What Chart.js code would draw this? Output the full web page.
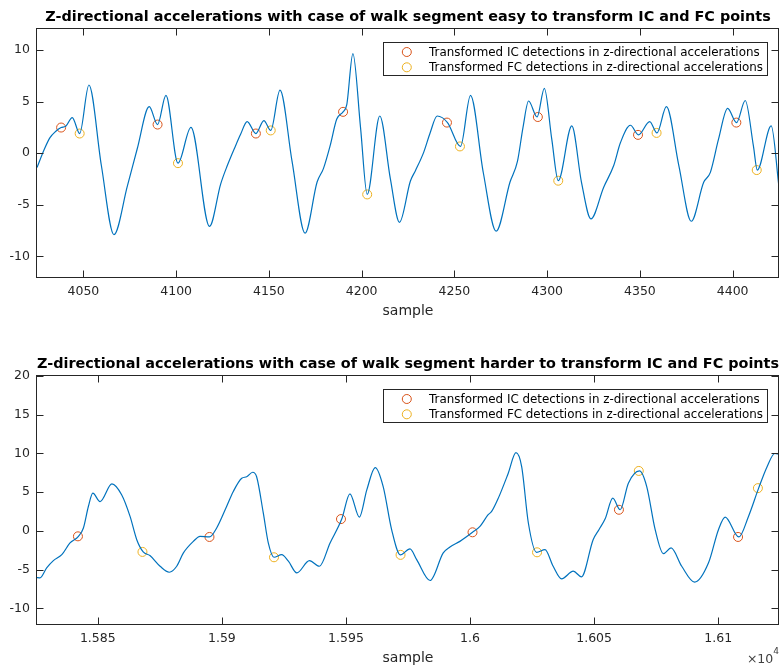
<!DOCTYPE html>
<html>
<head>
<meta charset="utf-8">
<script src="https://cdn.jsdelivr.net/npm/chart.js@4.4.1/dist/chart.umd.min.js"></script>
<style>
    html, body { margin: 0; padding: 0; background: #fff; }
    #wrap { position: relative; width: 780px; height: 669px; overflow: hidden; }
    .box { position: absolute; left: 0; width: 780px; }
</style>
</head>
<body>
<div id="wrap">
    <div class="box" style="top:0;height:335px"><canvas id="topChart"></canvas></div>
    <div class="box" style="top:335px;height:334px"><canvas id="bottomChart"></canvas></div>
</div>
<script>
// upper panel: easy walk segment
const topSamples = [4025, 4029, 4032, 4035, 4038, 4040.5, 4044, 4048, 4053, 4059.7, 4066.5, 4073.7, 4079, 4085.5, 4090, 4094.5,
    4101, 4108, 4118, 4124, 4127.6, 4132, 4134.7, 4138.3, 4143, 4147.3, 4151, 4156, 4162.5, 4169.5, 4176, 4179.4,
    4183, 4186.6, 4190, 4192, 4195.3, 4199.4, 4203, 4209.8, 4215.5, 4220.4, 4226.3, 4229, 4233.5, 4237, 4240.7, 4246.3,
    4253.3, 4258.7, 4265.6, 4272.5, 4280, 4284, 4287, 4290, 4294.6, 4298.5, 4302.5, 4306, 4313.3, 4318.5, 4323.6, 4330.5,
    4335.9, 4339.5, 4344.9, 4349.2, 4355.3, 4359.2, 4364.3, 4371, 4377.7, 4384.4, 4388, 4392.4, 4397.3, 4402.1, 4406.8,
    4411.2, 4413.3, 4420.8, 4425];
const topValues = [-1.4, 0.4, 1.5, 2.1, 2.48, 2.6, 3.45, 1.9, 6.6, -1.2, -7.9, -3.2, 0.4, 4.5, 2.77, 5.6,
    -0.97, 2.5, -7.1, -3.0, -1.2, 0.7, 1.8, 3.06, 1.9, 3.15, 2.2, 6.1, -0.8, -7.75, -2.8, -1.5,
    0.7, 3.3, 4.0, 4.7, 9.65, 2.5, -4.0, 3.6, -2.5, -6.7, -2.7, -1.7, 0.1, 2.0, 3.6, 2.96,
    0.65, 5.6, -1.9, -7.56, -2.8, -0.8, 2.5, 5.05, 3.5, 6.27, 1.35, -2.67, 2.64, -2.8, -6.37, -3.3,
    -1.2, 1.0, 2.7, 1.77, 3.06, 1.96, 4.5, -1.2, -6.6, -2.83, -1.86, 1.35, 4.34, 2.96, 5.1,
    0.7, -1.64, 2.64, -3.3];
const topIcSamples = [4038, 4090, 4143, 4190, 4246, 4295, 4349, 4402];
const topIcValues = [2.48, 2.77, 1.9, 4.0, 2.96, 3.5, 1.77, 2.96];
const topFcSamples = [4048, 4101, 4151, 4203, 4253, 4306, 4359, 4413];
const topFcValues = [1.9, -0.97, 2.2, -4.0, 0.65, -2.67, 1.96, -1.64];
const topXTicks = [4050, 4100, 4150, 4200, 4250, 4300, 4350, 4400];
const topXTickLabels = ['4050', '4100', '4150', '4200', '4250', '4300', '4350', '4400'];
const topYTicks = [-10, -5, 0, 5, 10];

// lower panel: harder walk segment
const bottomSamples = [15825.4, 15826.7, 15829.4, 15832.1, 15835.5, 15838.8, 15842.2, 15844.2, 15846.2, 15848, 15850.9,
    15855.7, 15859.6, 15863, 15865.7, 15868.3, 15871, 15875.1, 15878.8, 15881.8, 15884.5, 15888.5, 15891.2, 15895,
    15897.9, 15901.9, 15904.6, 15908, 15910, 15912.4, 15914, 15916.7, 15918.7, 15921, 15924.1, 15926.8, 15930.2,
    15935.3, 15939.3, 15943.6, 15948.3, 15951.6, 15955.4, 15958.4, 15961.8, 15965, 15968.4, 15971.9, 15975.8,
    15978.5, 15983.9, 15989.2, 15991.9, 15995.9, 16001, 16004, 16007.3, 16008.7, 16011.4, 16015.4, 16018.5,
    16020.8, 16023.5, 16026.8, 16030.2, 16033.5, 16036.9, 16041.6, 16044.9, 16049.6, 16052, 16054.5, 16057.5,
    16060.5, 16063.8, 16068.3, 16071.2, 16074.6, 16077.9, 16081, 16085.3, 16090.5, 16096.1, 16100.1, 16102.8,
    16108.3, 16112.2, 16116.3, 16119.7, 16122.8, 16124.5];
const bottomValues = [-6.0, -6.05, -4.76, -3.82, -3.05, -1.54, -0.69, 0.39, 3.16, 4.88, 3.8,
    6.08, 4.67, 1.88, -1.12, -2.7, -3.17, -4.55, -5.32, -4.55, -2.83, -1.34, -0.69, -0.77,
    0.39, 3.16, 5.1, 6.8, 7.0, 7.58, 7.0, 2.3, -1.54, -3.39, -3.05, -3.9, -5.4,
    -3.82, -4.55, -1.54, 1.54, 4.8, 1.8, 5.3, 8.18, 5.73, 0.17, -3.08, -2.3,
    -3.69, -6.39, -2.83, -2.06, -1.34, -0.17, 0.6, 2.1, 2.52, 4.24, 7.45, 10.1,
    8.3, 1.03, -2.75, -2.4, -4.55, -6.17, -5.19, -5.91, -1.12, 0.2, 1.6, 4.24,
    2.74, 6.17, 7.75, 5.73, 0.17, -2.92, -2.19, -4.55, -6.6, -4.11, 0.17, 1.8,
    -0.77, 1.88, 5.53, 8.3, 10.0, 9.9];
const bottomIcSamples = [15842, 15895, 15948, 16001, 16060, 16108];
const bottomIcValues = [-0.69, -0.77, 1.54, -0.17, 2.74, -0.77];
const bottomFcSamples = [15868, 15921, 15972, 16027, 16068, 16116];
const bottomFcValues = [-2.7, -3.39, -3.08, -2.75, 7.75, 5.53];
const bottomXTicks = [15850, 15900, 15950, 16000, 16050, 16100];
const bottomXTickLabels = ['1.585', '1.59', '1.595', '1.6', '1.605', '1.61'];
const bottomYTicks = [-10, -5, 0, 5, 10, 15, 20];

const icLabel = 'Transformed IC detections in z-directional accelerations';
const fcLabel = 'Transformed FC detections in z-directional accelerations';
const axisColor = '#262626';

Chart.defaults.font.family = "'DejaVu Sans', sans-serif";

const toPoints = (xs, ys) => xs.map((x, i) => ({ x: x, y: ys[i] }));

// matlab look: closed box, inward ticks, legend box inside the axes, x10^4 label
const matlabAxes = {
    id: 'matlabAxes',
    afterDraw(chart, args, opts) {
        const ctx = chart.ctx;
        const a = chart.chartArea;
        const L = Math.round(a.left) - 0.5, R = Math.round(a.right) - 0.5;
        const T = Math.round(a.top) - 0.5, B = Math.round(a.bottom) + 0.5;
        ctx.save();
        ctx.strokeStyle = axisColor;
        ctx.lineWidth = 1;
        ctx.strokeRect(L, T, R - L, B - T);
        ctx.beginPath();
        chart.scales.x.ticks.forEach(t => {
            const px = Math.round(chart.scales.x.getPixelForValue(t.value)) + 0.5;
            ctx.moveTo(px, B); ctx.lineTo(px, B - 7);
            ctx.moveTo(px, T); ctx.lineTo(px, T + 7);
        });
        chart.scales.y.ticks.forEach(t => {
            const py = Math.round(chart.scales.y.getPixelForValue(t.value)) + 0.5;
            ctx.moveTo(L, py); ctx.lineTo(L + 7, py);
            ctx.moveTo(R, py); ctx.lineTo(R - 7, py);
        });
        ctx.stroke();

        // legend
        const items = chart.data.datasets.slice(1);
        ctx.font = "11.9px 'DejaVu Sans', sans-serif";
        const textW = Math.max(...items.map(d => ctx.measureText(d.label).width));
        const w = Math.round(46 + textW + 4), h = 33;
        const lx = Math.round(a.right - 12 - w) + 0.5, ly = Math.round(a.top + 13) + 0.5;
        ctx.fillStyle = '#fff';
        ctx.fillRect(lx, ly, w, h);
        ctx.strokeStyle = axisColor;
        ctx.strokeRect(lx, ly, w, h);
        items.forEach((d, i) => {
            const cy = ly + 9.5 + i * 15.3;
            ctx.beginPath();
            ctx.strokeStyle = d.borderColor;
            ctx.arc(lx + 23.3, cy, 4.5, 0, Math.PI * 2);
            ctx.stroke();
            ctx.fillStyle = '#000';
            ctx.textAlign = 'left';
            ctx.textBaseline = 'middle';
            ctx.fillText(d.label, lx + 45.6, cy + 0.5);
        });

        if (opts.exponent) {
            ctx.fillStyle = '#404040';
            ctx.textAlign = 'right';
            ctx.textBaseline = 'middle';
            ctx.font = "9px 'DejaVu Sans', sans-serif";
            ctx.fillText(opts.exponent, a.right, chart.height - 17);
            const ew = ctx.measureText(opts.exponent).width;
            ctx.font = "12.5px 'DejaVu Sans', sans-serif";
            ctx.fillText('\u00d710', a.right - ew, chart.height - 9);
        }
        ctx.restore();
    }
};

function makeChart(id, cfg) {
    return new Chart(document.getElementById(id), {
        type: 'line',
        data: {
            datasets: [{
                label: 'z',
                data: toPoints(cfg.samples, cfg.values),
                borderColor: '#0072BD',
                borderWidth: 1.2,
                pointRadius: 0,
                cubicInterpolationMode: 'monotone',
                fill: false,
            }, {
                label: icLabel,
                data: toPoints(cfg.icSamples, cfg.icValues),
                showLine: false,
                borderColor: '#D95319',
                pointBorderColor: '#D95319',
                pointBackgroundColor: 'rgba(0,0,0,0)',
                pointRadius: 4.5,
                pointBorderWidth: 1,
            }, {
                label: fcLabel,
                data: toPoints(cfg.fcSamples, cfg.fcValues),
                showLine: false,
                borderColor: '#EDB120',
                pointBorderColor: '#EDB120',
                pointBackgroundColor: 'rgba(0,0,0,0)',
                pointRadius: 4.5,
                pointBorderWidth: 1,
            }]
        },
        plugins: [matlabAxes],
        options: {
            responsive: true,
            maintainAspectRatio: false,
            animation: false,
            events: [],
            layout: { autoPadding: false, padding: { left: 0, right: 1, top: 0, bottom: 0 } },
            plugins: {
                legend: { display: false },
                tooltip: { enabled: false },
                title: {
                    display: true,
                    text: cfg.title,
                    fullSize: false,
                    color: '#000',
                    font: { size: 14.4, weight: 'bold' },
                    padding: { top: cfg.titleTop, bottom: cfg.titleBottom }
                },
                matlabAxes: { exponent: cfg.exponent }
            },
            scales: {
                x: {
                    type: 'linear',
                    min: cfg.xMin,
                    max: cfg.xMax,
                    afterBuildTicks: s => { s.ticks = cfg.xTicks.map(v => ({ value: v })); },
                    afterFit: s => { s.height = cfg.xHeight; s.paddingLeft = 0; s.paddingRight = 0; },
                    grid: { display: false, drawTicks: false },
                    border: { display: false },
                    ticks: {
                        padding: 7,
                        color: axisColor,
                        font: { size: 12.5 },
                        maxRotation: 0,
                        autoSkip: false,
                        callback: (v, i) => cfg.xTickLabels[i]
                    },
                    title: {
                        display: true,
                        text: 'sample',
                        color: axisColor,
                        font: { size: 14 },
                        padding: { top: 0, bottom: cfg.xTitlePad }
                    }
                },
                y: {
                    min: cfg.yMin,
                    max: cfg.yMax,
                    afterBuildTicks: s => { s.ticks = cfg.yTicks.map(v => ({ value: v })); },
                    afterFit: s => { s.width = 37; s.paddingTop = 0; s.paddingBottom = 0; },
                    grid: { display: false, drawTicks: false },
                    border: { display: false },
                    ticks: { padding: 7, color: axisColor, font: { size: 12.5 } }
                }
            }
        }
    });
}

makeChart('topChart', {
    title: 'Z-directional accelerations with case of walk segment easy to transform IC and FC points',
    samples: topSamples, values: topValues,
    icSamples: topIcSamples, icValues: topIcValues,
    fcSamples: topFcSamples, fcValues: topFcValues,
    xTicks: topXTicks, xTickLabels: topXTickLabels, yTicks: topYTicks,
    xMin: 4025, xMax: 4425, yMin: -12, yMax: 12,
    titleTop: 8.5, titleBottom: 3.5, xHeight: 58, xTitlePad: 15.1
});

makeChart('bottomChart', {
    title: 'Z-directional accelerations with case of walk segment harder to transform IC and FC points',
    samples: bottomSamples, values: bottomValues,
    icSamples: bottomIcSamples, icValues: bottomIcValues,
    fcSamples: bottomFcSamples, fcValues: bottomFcValues,
    xTicks: bottomXTicks, xTickLabels: bottomXTickLabels, yTicks: bottomYTicks,
    xMin: 15825.5, xMax: 16124.5, yMin: -12, yMax: 20,
    titleTop: 20.2, titleBottom: 3.5, xHeight: 45, xTitlePad: 2.6,
    exponent: '4'
});
</script>
</body>
</html>
